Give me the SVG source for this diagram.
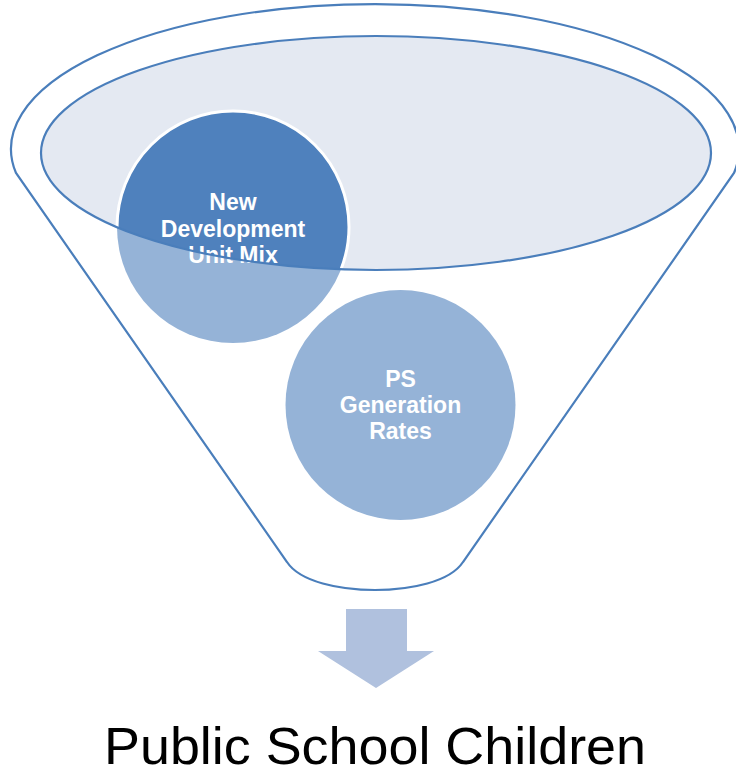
<svg xmlns="http://www.w3.org/2000/svg" width="736" height="775" viewBox="0 0 736 775">
  <defs>
    <style>
      .outline { fill: none; stroke: #4a7ebb; stroke-width: 2.2; }
      .label { font-family: "Liberation Sans", Arial, sans-serif; font-weight: bold; font-size: 23px; fill: #ffffff; text-anchor: middle; }
      .result { font-family: "Liberation Sans", Arial, sans-serif; font-size: 52px; fill: #000000; }
    </style>
    <clipPath id="rimClip">
      <ellipse cx="376" cy="153" rx="335" ry="117"/>
    </clipPath>
  </defs>
  <rect width="736" height="775" fill="#ffffff"/>

  <!-- funnel body: top rim arc, sloped sides and rounded spout -->
  <g id="funnel">
    <path class="outline" d="M16,173 A364,145 0 1 1 734,173 L463,562 C450,582 410,590 375,590 C340,590 300,582 287,562 Z"/>
    <ellipse id="rim" cx="376" cy="153" rx="335" ry="117" fill="#e4e9f2"/>
  </g>

  <g id="node-unit-mix">
    <circle cx="233" cy="227" r="116" fill="#95b3d7"/>
    <g clip-path="url(#rimClip)">
      <circle cx="233" cy="227" r="116" fill="#4f81bd" stroke="#ffffff" stroke-width="3"/>
    </g>
    <text class="label" x="233" y="210">New</text>
    <text class="label" x="233" y="237">Development</text>
    <text class="label" x="233" y="263">Unit Mix</text>
  </g>

  <g id="node-generation-rates">
    <circle cx="400.5" cy="405" r="115" fill="#95b3d7"/>
    <text class="label" x="400.5" y="387">PS</text>
    <text class="label" x="400.5" y="413">Generation</text>
    <text class="label" x="400.5" y="439">Rates</text>
  </g>

  <!-- rim outline drawn over the circles -->
  <ellipse class="outline" cx="376" cy="153" rx="335" ry="117"/>

  <g id="connectors">
    <polygon points="346,609 407,609 407,651 434,651 376,688 318,651 346,651" fill="#b0c1de"/>
  </g>

  <g id="node-result">
    <text class="result" x="104" y="764" textLength="542" lengthAdjust="spacingAndGlyphs">Public School Children</text>
  </g>
</svg>
